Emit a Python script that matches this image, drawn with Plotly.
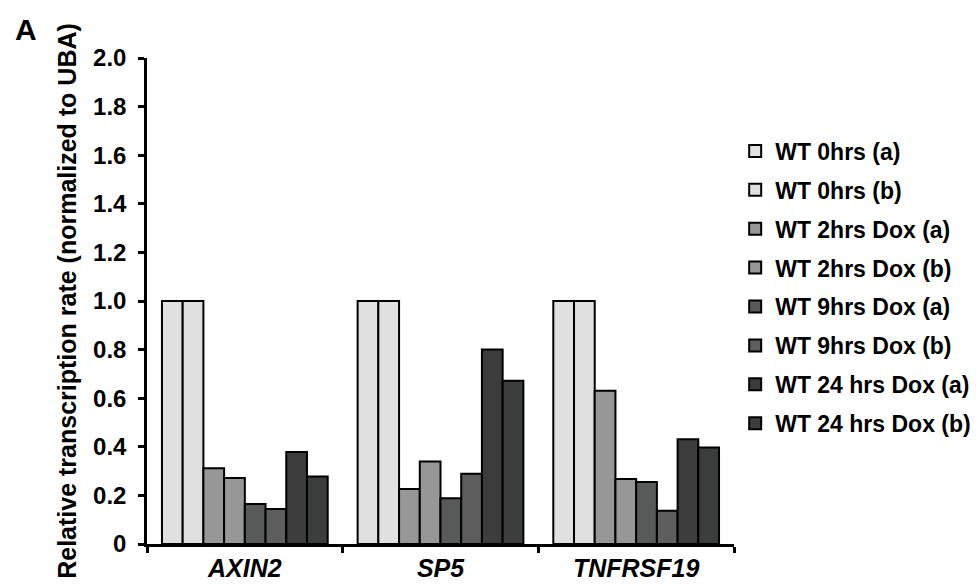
import plotly.graph_objects as go

categories = ["AXIN2", "SP5", "TNFRSF19"]
series_names = ["WT 0hrs (a)", "WT 0hrs (b)", "WT 2hrs Dox (a)", "WT 2hrs Dox (b)",
                "WT 9hrs Dox (a)", "WT 9hrs Dox (b)", "WT 24 hrs Dox (a)", "WT 24 hrs Dox (b)"]
wt0_a = [1.0, 1.0, 1.0]
wt0_b = [1.0, 1.0, 1.0]
wt2_a = [0.312, 0.226, 0.631]
wt2_b = [0.272, 0.340, 0.268]
wt9_a = [0.165, 0.188, 0.255]
wt9_b = [0.144, 0.289, 0.137]
wt24_a = [0.379, 0.800, 0.431]
wt24_b = [0.278, 0.672, 0.397]
series_values = [wt0_a, wt0_b, wt2_a, wt2_b, wt9_a, wt9_b, wt24_a, wt24_b]
colors = ["#e0e0e0", "#e0e0e0", "#979797", "#979797", "#575a59", "#5e5e5e", "#3c3c3c", "#3b3d3c"]
y_ticks = [0, 0.2, 0.4, 0.6, 0.8, 1.0, 1.2, 1.4, 1.6, 1.8, 2.0]
y_ticktext = ["0", "0.2", "0.4", "0.6", "0.8", "1.0", "1.2", "1.4", "1.6", "1.8", "2.0"]

FONT = "Arial, Liberation Sans, sans-serif"

fig = go.Figure()
for i, (name, vals, col) in enumerate(zip(series_names, series_values, colors)):
    fig.add_trace(go.Bar(
        x=categories, y=vals, name=name, legendgroup=str(i),
        marker=dict(color=col, line=dict(color="black", width=2)),
    ))

fig.update_layout(
    width=980, height=586,
    margin=dict(l=139, r=251, t=50, b=39),
    paper_bgcolor="white", plot_bgcolor="white",
    barmode="group", bargap=0.153, bargroupgap=0,
    font=dict(family=FONT, color="black"),
    legend=dict(
        x=1.002, xanchor="left", y=0.853, yanchor="top",
        font=dict(size=23, family=FONT, weight="bold"),
        tracegroupgap=6, traceorder="grouped",
        itemsizing="constant",
    ),
    xaxis=dict(
        showline=True, linecolor="black", linewidth=2.5,
        ticks="outside", tickson="boundaries", ticklen=6, tickwidth=2.5, tickcolor="black",
        tickfont=dict(size=25, family=FONT, weight="bold", style="italic"),
        showgrid=False, zeroline=False,
    ),
    yaxis=dict(
        range=[0, 2.0], tickvals=y_ticks, ticktext=y_ticktext,
        showline=True, linecolor="black", linewidth=2.5,
        ticks="outside", ticklen=6, tickwidth=2.5, tickcolor="black",
        tickfont=dict(size=24, family=FONT, weight="bold"),
        ticklabelstandoff=7,
        showgrid=False, zeroline=False,
        title=dict(text="Relative transcription rate (normalized to UBA)",
                   font=dict(size=25, family=FONT, weight="bold"), standoff=10),
    ),
)
fig.add_annotation(text="<b>A</b>", xref="paper", yref="paper",
                   x=(4 - 139) / 590, y=1 + (50 - 21) / 497, xanchor="left", yanchor="middle",
                   showarrow=False, font=dict(size=30, family=FONT, color="black"))

fig.write_html("out.html")
